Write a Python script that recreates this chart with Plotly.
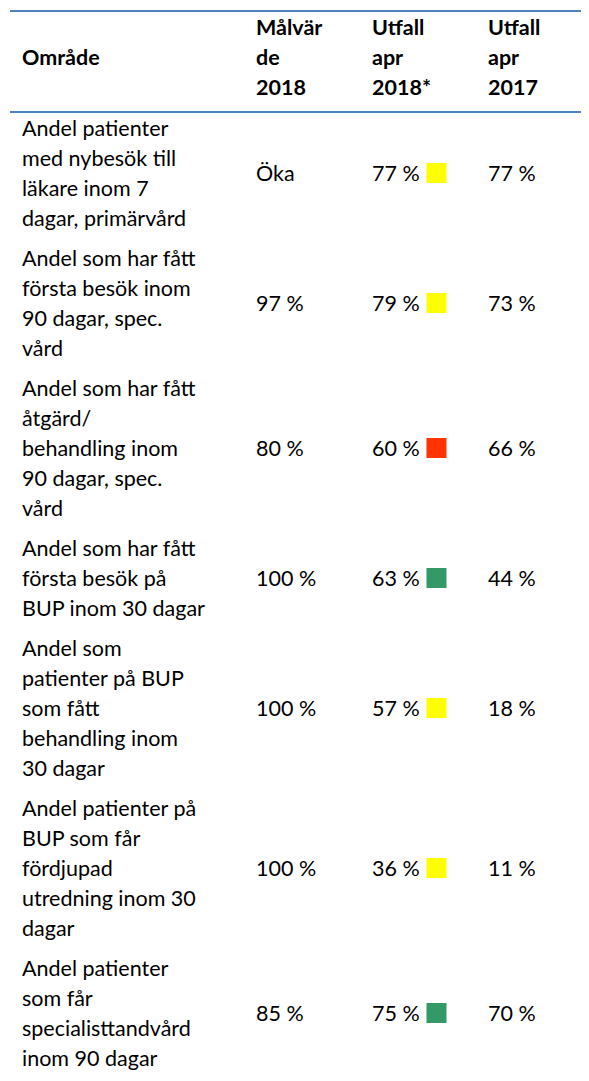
import plotly.graph_objects as go

# table content
headers = [["Område"], ["Målvär", "de", "2018"], ["Utfall", "apr", "2018*"], ["Utfall", "apr", "2017"]]

areas = [
    ["Andel patienter", "med nybesök till", "läkare inom 7", "dagar, primärvård"],
    ["Andel som har fått", "första besök inom", "90 dagar, spec.", "vård"],
    ["Andel som har fått", "åtgärd/", "behandling inom", "90 dagar, spec.", "vård"],
    ["Andel som har fått", "första besök på", "BUP inom 30 dagar"],
    ["Andel som", "patienter på BUP", "som fått", "behandling inom", "30 dagar"],
    ["Andel patienter på", "BUP som får", "fördjupad", "utredning inom 30", "dagar"],
    ["Andel patienter", "som får", "specialisttandvård", "inom 90 dagar"],
]
targets_2018 = ["Öka", "97 %", "80 %", "100 %", "100 %", "100 %", "85 %"]
outcome_apr_2018 = [77, 79, 60, 63, 57, 36, 75]
outcome_apr_2017 = [77, 73, 66, 44, 18, 11, 70]
status = ["yellow", "yellow", "red", "green", "yellow", "yellow", "green"]

status_colors = {"yellow": "#FFFF00", "red": "#FF3300", "green": "#339966"}

# layout in page pixels (page body has an 8px margin)
W, H = 589, 1081
M = 8
col_x = [22, 256, 372, 488]
square_x = 436.5
line_h = 30
row_gap = 10
first_line_y = 131
header_mid = 60
rule_color = "#4F81BD"
font = "Lato"
fsize = 21.5

fig = go.Figure()

# header
hx, hy, ht = [], [], []
for cx, lines in zip(col_x, headers):
    n = len(lines)
    for k, s in enumerate(lines):
        hx.append(cx)
        hy.append(header_mid + (k - (n - 1) / 2) * line_h)
        ht.append(f"<b>{s}</b>")
fig.add_trace(go.Scatter(x=hx, y=hy, text=ht, mode="text", textposition="middle right",
                         textfont=dict(family=font, size=fsize, color="#000000"),
                         hoverinfo="skip", showlegend=False))

# body
bx, by, bt = [], [], []
sq_y, sq_c = [], []
y = first_line_y
for i, lines in enumerate(areas):
    n = len(lines)
    for k, s in enumerate(lines):
        bx.append(col_x[0])
        by.append(y + k * line_h)
        bt.append(s)
    mid = y + (n - 1) * line_h / 2
    for cx, s in zip(col_x[1:], [targets_2018[i], f"{outcome_apr_2018[i]} %", f"{outcome_apr_2017[i]} %"]):
        bx.append(cx)
        by.append(mid)
        bt.append(s)
    sq_y.append(mid - 3)
    sq_c.append(status_colors[status[i]])
    y += n * line_h + row_gap

fig.add_trace(go.Scatter(x=bx, y=by, text=bt, mode="text", textposition="middle right",
                         textfont=dict(family=font, size=fsize, color="#000000"),
                         hoverinfo="skip", showlegend=False))
fig.add_trace(go.Scatter(x=[square_x] * len(sq_y), y=sq_y, mode="markers",
                         marker=dict(symbol="square", size=20, color=sq_c, line=dict(width=0)),
                         hoverinfo="skip", showlegend=False))

for ry in [11, 112]:
    fig.add_shape(type="line", x0=10, x1=W - M, y0=ry, y1=ry, line=dict(color=rule_color, width=2))

fig.update_xaxes(range=[M, W - M], visible=False, fixedrange=True)
fig.update_yaxes(range=[H - M, M], visible=False, fixedrange=True)
fig.update_layout(width=W - 2 * M, height=H - 2 * M, margin=dict(l=0, r=0, t=0, b=0),
                  paper_bgcolor="white", plot_bgcolor="white")

fig.write_html("out.html")
